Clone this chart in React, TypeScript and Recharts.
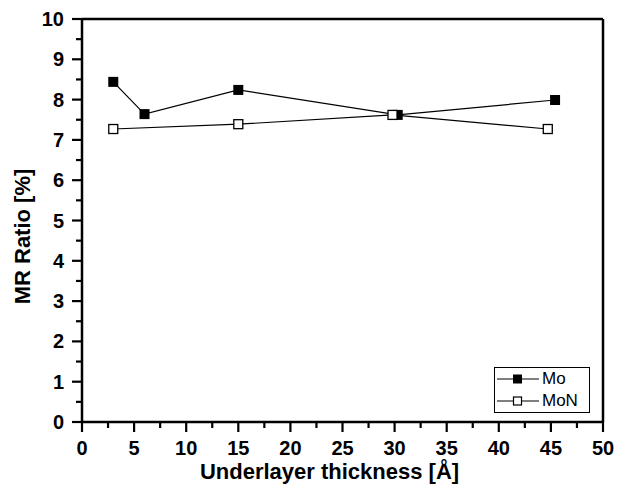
import { LineChart, Line, XAxis, YAxis, Label, ReferenceLine } from "recharts";

const moX = [3, 6, 15, 30.3, 45.4];
const moY = [8.44, 7.64, 8.24, 7.62, 7.99];
const monX = [3, 15, 29.8, 44.7];
const monY = [7.27, 7.39, 7.62, 7.27];

const xTicks = [0, 2.5, 5, 7.5, 10, 12.5, 15, 17.5, 20, 22.5, 25, 27.5, 30, 32.5, 35, 37.5, 40, 42.5, 45, 47.5, 50];
const yTicks = [0, 0.5, 1, 1.5, 2, 2.5, 3, 3.5, 4, 4.5, 5, 5.5, 6, 6.5, 7, 7.5, 8, 8.5, 9, 9.5, 10];

const moData = moX.map((x, i) => ({ x, y: moY[i] }));
const monData = monX.map((x, i) => ({ x, y: monY[i] }));

const font = "'Liberation Sans', Arial, sans-serif";

function XTick(props: any) {
    const { x, y, payload } = props;
    const major = payload.value % 5 === 0;
    return (
        <g>
            <line x1={x} y1={y} x2={x} y2={y + (major ? 10 : 6)} stroke="#000" strokeWidth={2.2} />
            {major && (
                <text x={x} y={y + 33} textAnchor="middle" fontSize={20} fontWeight="bold" fontFamily={font} fill="#000">
                    {payload.value}
                </text>
            )}
        </g>
    );
}

function YTick(props: any) {
    const { x, y, payload } = props;
    const major = payload.value % 1 === 0;
    return (
        <g>
            <line x1={x} y1={y} x2={x - (major ? 10 : 6)} y2={y} stroke="#000" strokeWidth={2.2} />
            {major && (
                <text x={x - 18} y={y + 7} textAnchor="end" fontSize={20} fontWeight="bold" fontFamily={font} fill="#000">
                    {payload.value}
                </text>
            )}
        </g>
    );
}

function FilledSquare(props: any) {
    const { cx, cy } = props;
    return <rect x={cx - 5} y={cy - 5} width={10} height={10} fill="#000" />;
}

function OpenSquare(props: any) {
    const { cx, cy } = props;
    return <rect x={cx - 4.5} y={cy - 4.5} width={9} height={9} fill="#fff" stroke="#000" strokeWidth={1.3} />;
}

function LegendBox() {
    const row = (label: string, filled: boolean) => (
        <div style={{ display: "flex", alignItems: "center", height: 22 }}>
            <svg width={46} height={14}>
                <line x1={2} y1={7} x2={44} y2={7} stroke="#000" strokeWidth={1.2} />
                {filled ? (
                    <rect x={18} y={2.5} width={9} height={9} fill="#000" />
                ) : (
                    <rect x={18.5} y={3} width={8} height={8} fill="#fff" stroke="#000" strokeWidth={1.2} />
                )}
            </svg>
            <span style={{ fontFamily: font, fontSize: 17, marginLeft: 1 }}>{label}</span>
        </div>
    );
    return (
        <div style={{ position: "absolute", left: 494, top: 367, border: "1px solid #000", width: 94, background: "#fff" }}>
            {row("Mo", true)}
            {row("MoN", false)}
        </div>
    );
}

export default function App() {
    return (
        <div style={{ position: "absolute", left: 0, top: 0, background: "#fff", width: 629, height: 503 }}>
            <LineChart width={629} height={503} margin={{ top: 19, right: 26, bottom: 0, left: 0 }}>
                <XAxis
                    dataKey="x"
                    type="number"
                    domain={[0, 50]}
                    ticks={xTicks}
                    interval={0}
                    tickLine={false}
                    tickSize={0}
                    tickMargin={0}
                    tick={<XTick />}
                    axisLine={{ stroke: "#000", strokeWidth: 2.5 }}
                    height={81}
                    allowDataOverflow
                >
                    <Label
                        value="Underlayer thickness [Å]"
                        position="insideBottom"
                        offset={24}
                        style={{ fontFamily: font, fontSize: 22, fontWeight: "bold", fill: "#000" }}
                        dx={-13}
                    />
                </XAxis>
                <YAxis
                    dataKey="y"
                    type="number"
                    domain={[0, 10]}
                    ticks={yTicks}
                    interval={0}
                    tickLine={false}
                    tickSize={0}
                    tickMargin={0}
                    tick={<YTick />}
                    axisLine={{ stroke: "#000", strokeWidth: 2.5 }}
                    width={82}
                >
                    <Label
                        value="MR Ratio [%]"
                        angle={-90}
                        position="insideLeft"
                        offset={22}
                        dy={16}
                        style={{ fontFamily: font, fontSize: 22, fontWeight: "bold", fill: "#000", textAnchor: "middle" }}
                    />
                </YAxis>
                <ReferenceLine y={10} stroke="#000" strokeWidth={2.5} />
                <ReferenceLine x={50} stroke="#000" strokeWidth={2.5} />
                <Line data={moData} dataKey="y" name="Mo" stroke="#000" strokeWidth={1.2} dot={<FilledSquare />} isAnimationActive={false} />
                <Line data={monData} dataKey="y" name="MoN" stroke="#000" strokeWidth={1.2} dot={<OpenSquare />} isAnimationActive={false} />
            </LineChart>
            <LegendBox />
        </div>
    );
}
